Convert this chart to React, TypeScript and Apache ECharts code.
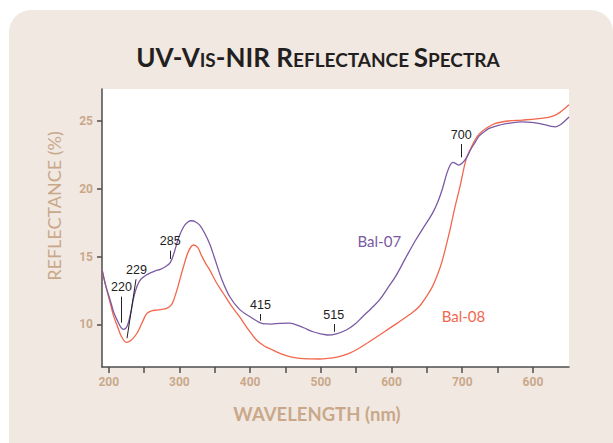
import React, { useEffect, useRef } from "react";
import * as echarts from "echarts";

const bal07Wavelength = [190.7, 196, 202, 207, 212, 217, 221, 226, 231, 235, 240, 245, 252, 259, 266, 273, 280, 287, 292, 299, 306, 312, 317, 323, 329, 336, 343, 349, 360, 371, 385, 400, 418, 430, 442, 456, 470, 480, 489, 500, 510, 522, 536, 548, 559, 571, 583, 595, 607, 620, 634, 646, 658, 666, 672, 678, 683, 687, 691, 695, 700, 705, 712, 718, 724, 731, 738, 750, 762, 775, 785, 798, 810, 822, 832, 838, 844, 851];
const bal07Reflectance = [14.0, 12.8, 11.8, 10.9, 10.3, 9.8, 9.63, 9.85, 10.8, 11.9, 12.8, 13.3, 13.6, 13.8, 13.95, 14.05, 14.25, 14.55, 15.2, 16.4, 17.2, 17.55, 17.64, 17.55, 17.3, 16.7, 15.9, 15.0, 13.3, 12.05, 11.1, 10.56, 10.05, 10.02, 10.07, 10.08, 9.87, 9.65, 9.45, 9.3, 9.21, 9.3, 9.58, 10.0, 10.56, 11.15, 11.8, 12.7, 13.65, 14.9, 16.2, 17.2, 18.2, 19.1, 20.0, 21.1, 21.75, 21.95, 21.85, 21.75, 21.9, 22.2, 22.9, 23.4, 23.9, 24.2, 24.45, 24.65, 24.8, 24.9, 24.94, 24.9, 24.8, 24.65, 24.57, 24.7, 24.95, 25.3];

const bal08Wavelength = [190.7, 196, 202, 207, 212, 218, 225, 232, 240, 247, 254, 261, 268, 275, 282, 288, 292, 298, 306, 313, 320, 326, 331, 337, 343, 352, 362, 373, 385, 397, 409, 420, 432, 445, 456, 470, 485, 498, 512, 526, 540, 554, 568, 583, 597, 611, 625, 639, 650, 658, 666, 672, 681, 690, 697, 705, 710, 718, 724, 735, 747, 765, 785, 805, 822, 830, 836, 842, 851];
const bal08Reflectance = [14.0, 12.8, 11.6, 10.6, 9.9, 9.1, 8.67, 8.85, 9.34, 10.1, 10.8, 11.0, 11.05, 11.1, 11.18, 11.4, 11.8, 12.8, 14.3, 15.4, 15.85, 15.65, 15.1, 14.5, 14.0, 13.1, 12.29, 11.4, 10.56, 9.65, 8.84, 8.4, 8.1, 7.8, 7.61, 7.49, 7.45, 7.44, 7.5, 7.61, 7.85, 8.23, 8.7, 9.21, 9.7, 10.19, 10.7, 11.3, 12.1, 12.8, 13.8, 14.74, 16.6, 18.7, 20.2, 22.1, 22.75, 23.6, 24.05, 24.5, 24.82, 25.0, 25.07, 25.15, 25.27, 25.4, 25.56, 25.8, 26.2];

const seriesNames = ["Bal-07", "Bal-08"];
const seriesLabelAt = [[582.7, 16.14], [701.7, 10.58]];

const xTickValues = [200, 250, 300, 350, 400, 450, 500, 550, 600, 650, 700, 750, 800];
const xLabelValues = [200, 300, 400, 500, 600, 700, 800];
const xTickLabels = ["200", "300", "400", "500", "600", "700", "600"];
const yLabelValues = [10, 15, 20, 25];
const yTickLabels = ["10", "15", "20", "25"];

const peakLabels = ["220", "229", "285", "415", "515", "700"];
const peakLineFrom = [[218, 10.12], [225.9, 8.97], [286.9, 14.82], [414.6, 10.27], [518.3, 9.45], [698.6, 22.32]];
const peakLineTo = [[218, 12.04], [238.6, 13.32], [286.9, 15.43], [414.6, 10.76], [518.3, 10.02], [698.6, 23.3]];

const TAN = "#c9a88a";
const AXIS = "#4d4d4d";
const PURPLE = "#7a5aa3";
const RED = "#f2674d";

function zip(xs: number[], ys: number[]) {
  return xs.map((x, i) => [x, ys[i]]);
}

export default function App() {
  const ref = useRef<HTMLDivElement>(null);
  useEffect(() => {
    if (!ref.current) return;
    const chart = echarts.init(ref.current, undefined, { renderer: "svg" });
    const colors = [PURPLE, RED];
    const datasets = [zip(bal07Wavelength, bal07Reflectance), zip(bal08Wavelength, bal08Reflectance)];
    const series: any[] = datasets.map((d, i) => ({
      name: seriesNames[i],
      type: "line",
      data: d,
      showSymbol: false,
      smooth: 0.35,
      color: colors[i],
      lineStyle: { width: 1.3, color: colors[i] },
      z: 3 - i,
      markPoint: {
        symbol: "circle",
        symbolSize: 0,
        silent: true,
        label: {
          show: true,
          position: "inside",
          formatter: () => seriesNames[i],
          color: colors[i],
          fontFamily: "Lato",
          fontSize: 15,
        },
        data: [{ coord: seriesLabelAt[i] }],
      },
    }));
    series.push({
      name: "peaks",
      type: "line",
      data: [],
      silent: true,
      markLine: {
        silent: true,
        symbol: ["none", "none"],
        lineStyle: { color: "#222", width: 1, type: "solid" },
        label: {
          show: true,
          position: "end",
          distance: 3,
          formatter: (p: any) => p.name,
          color: "#222",
          fontFamily: "Liberation Sans",
          fontSize: 12.5,
        },
        emphasis: { disabled: true },
        data: peakLabels.map((name, i) => [
          { name, coord: peakLineFrom[i] },
          { coord: peakLineTo[i] },
        ]),
      },
    });

    chart.setOption({
      animation: false,
      grid: {
        left: 93,
        top: 79,
        right: 44,
        bottom: 76,
        show: true,
        backgroundColor: "#ffffff",
        borderWidth: 0,
        containLabel: false,
      },
      xAxis: {
        type: "value",
        min: 190.5,
        max: 851,
        axisLine: { show: true, lineStyle: { color: AXIS, width: 1.5 } },
        axisTick: { show: true, customValues: xTickValues, length: 6, lineStyle: { color: AXIS, width: 1.5 } },
        axisLabel: {
          customValues: xLabelValues,
          formatter: (v: number) => xTickLabels[xLabelValues.indexOf(Math.round(v))] ?? "",
          color: TAN,
          fontFamily: "Roboto",
          fontWeight: "bold",
          fontSize: 12,
          margin: 9,
        },
        splitLine: { show: false },
      },
      yAxis: {
        type: "value",
        min: 6.85,
        max: 27.36,
        axisLine: { show: true, lineStyle: { color: AXIS, width: 1.5 } },
        axisTick: { show: true, customValues: yLabelValues, length: 5, lineStyle: { color: AXIS, width: 1.5 } },
        axisLabel: {
          customValues: yLabelValues,
          formatter: (v: number) => yTickLabels[yLabelValues.indexOf(Math.round(v))] ?? "",
          color: TAN,
          fontFamily: "Roboto",
          fontWeight: "bold",
          fontSize: 12,
          margin: 9,
        },
        splitLine: { show: false },
      },
      graphic: [
        {
          type: "text",
          x: 309,
          y: 45,
          style: {
            text: "{b|UV-V}{s|IS}{b|-NIR R}{s|EFLECTANCE }{b|S}{s|PECTRA}",
            align: "center",
            verticalAlign: "middle",
            rich: {
              b: { fontFamily: "Lato", fontWeight: "bold", fontSize: 26, fill: "#231f20", lineHeight: 30, verticalAlign: "bottom" },
              s: { fontFamily: "Lato", fontWeight: "bold", fontSize: 19, fill: "#231f20", lineHeight: 30, verticalAlign: "bottom", padding: [0, 0, 1, 0] },
            },
          },
        },
        {
          type: "text",
          x: 308,
          y: 404,
          style: {
            text: "WAVELENGTH (nm)",
            align: "center",
            verticalAlign: "middle",
            fontFamily: "Lato",
            fontWeight: "bold",
            fontSize: 18.5,
            fill: TAN,
          },
        },
        {
          type: "text",
          x: 45,
          y: 196,
          rotation: Math.PI / 2,
          style: {
            text: "REFLECTANCE (%)",
            align: "center",
            verticalAlign: "middle",
            fontFamily: "Lato",
            fontWeight: "normal",
            fontSize: 18,
            fill: TAN,
          },
        },
      ],
      series,
    });
    return () => chart.dispose();
  }, []);

  return (
    <div
      ref={ref}
      style={{
        position: "fixed",
        left: 9,
        top: 10,
        width: 604,
        height: 433,
        background: "#f1e8e2",
        borderRadius: "22px 22px 0 0",
      }}
    />
  );
}
